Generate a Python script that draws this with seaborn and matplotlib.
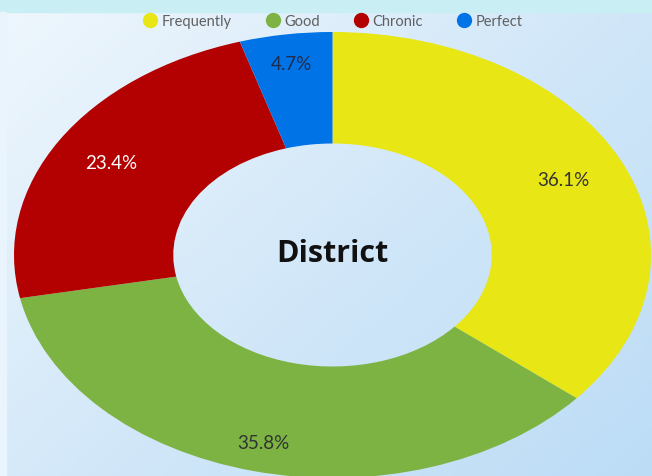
import numpy as np
import seaborn as sns
import matplotlib.pyplot as plt
from matplotlib.lines import Line2D
from matplotlib.colors import LinearSegmentedColormap

categories = ["Frequently", "Good", "Chronic", "Perfect"]
values = [36.1, 35.8, 23.4, 4.7]
colors = ["#e8e615", "#7cb342", "#b30000", "#0073e6"]
label_colors = ["#333333", "#333333", "#ffffff", "#1f2d4d"]
label_dist = [0.80, 0.87, 0.81, 0.87]
center_text = "District"

sns.set_theme(style="white")
plt.rcParams["font.family"] = ["Lato", "DejaVu Sans"]

fig = plt.figure(figsize=(6.52, 4.77), dpi=100)

# background gradient
bg = fig.add_axes([0, 0, 1, 1])
bg.set_axis_off()
yy, xx = np.mgrid[0:1:200j, 0:1:200j]
grad = (xx * 0.55 + yy * 0.45)
cmap = LinearSegmentedColormap.from_list("bg", ["#eff7fd", "#d3e8f9", "#bcdcf6"])
bg.imshow(grad, cmap=cmap, extent=[0, 1, 0, 1], origin="upper", aspect="auto")
bg.axhspan(1 - 13 / 477, 1, color="#c9eef4")
bg.axvspan(0, 6 / 652, ymax=1 - 13 / 477, color="#e9f4fc")
bg.set_xlim(0, 1)
bg.set_ylim(0, 1)

# donut (stretched to an ellipse)
ax = fig.add_axes([14 / 652, -2 / 477, 637 / 652, 446 / 477])
wedges, texts, autotexts = ax.pie(
    values,
    colors=colors,
    startangle=90,
    counterclock=False,
    autopct="%.1f%%",
    pctdistance=0.8,
    wedgeprops=dict(width=0.5, linewidth=0),
    textprops=dict(fontsize=13.5),
)
for w, t, c, d in zip(wedges, autotexts, label_colors, label_dist):
    ang = np.deg2rad((w.theta1 + w.theta2) / 2)
    t.set_position((d * np.cos(ang), d * np.sin(ang)))
    t.set_color(c)
ax.set_aspect("auto")
ax.set_xlim(-1, 1)
ax.set_ylim(-1, 1)
ax.text(0, 0.01, center_text, ha="center", va="center", fontsize=22,
        fontweight="bold", color="#111111", family=["Open Sans", "DejaVu Sans"])

handles = [Line2D([0], [0], marker="o", linestyle="", markersize=10,
                  markerfacecolor=c, markeredgecolor=c) for c in colors]
fig.legend(handles, categories, loc="center", bbox_to_anchor=(0.51, 1 - 22 / 477),
           ncol=4, frameon=False, fontsize=10.5, labelcolor="#606060",
           handletextpad=0.3, columnspacing=2.3, handlelength=1.0)

fig.savefig("out.png", dpi=100)
